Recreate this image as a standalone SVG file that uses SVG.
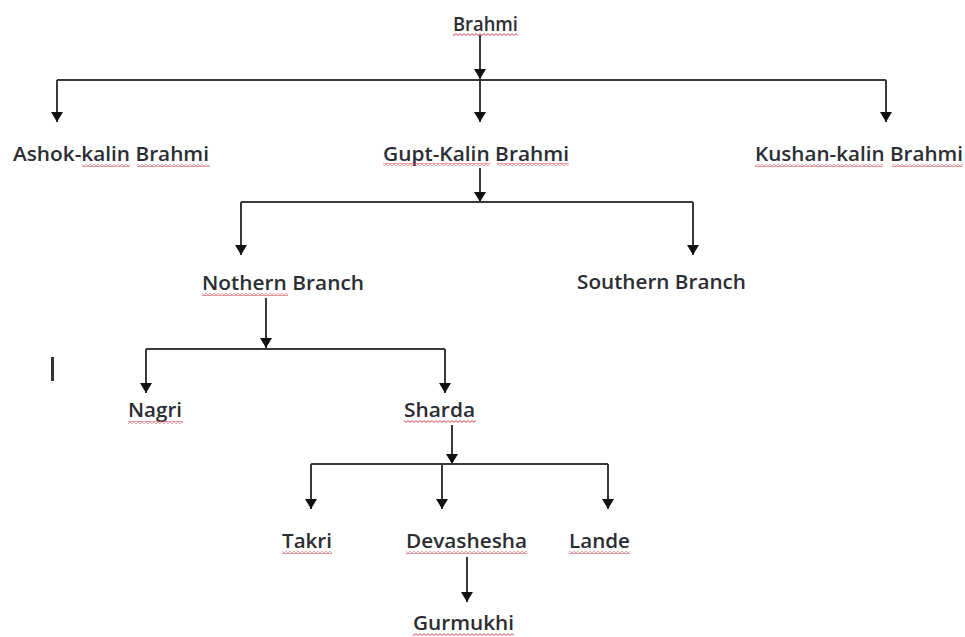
<svg xmlns="http://www.w3.org/2000/svg" width="965" height="637" viewBox="0 0 965 637">
<style>
  text { font-family: "Open Sans", "Noto Sans", "Liberation Sans", sans-serif; font-size: 19px; font-weight: 600; fill: #2b2d33; }
  .c path { fill: none; stroke: #3a3a3a; stroke-width: 2; }
  .sq { fill: url(#sq); }
</style>
<defs>
  <marker id="ah" markerUnits="userSpaceOnUse" markerWidth="12" markerHeight="12" refX="10" refY="6" orient="auto">
    <path d="M0,0 L10,6 L0,12 Z" fill="#111"/>
  </marker>
  <pattern id="sq" patternUnits="userSpaceOnUse" width="4" height="3">
    <path d="M0,0.6 L2,2.4 L4,0.6" fill="none" stroke="#e0404a" stroke-width="1"/>
  </pattern>
</defs>
<rect width="965" height="637" fill="#ffffff"/>
<g class="c" id="connectors">
  <path d="M480 35 V79" marker-end="url(#ah)"/>
  <path d="M57 80 H886"/>
  <path d="M57 80 V122" marker-end="url(#ah)"/>
  <path d="M480 80 V122" marker-end="url(#ah)"/>
  <path d="M886 80 V122" marker-end="url(#ah)"/>
  <path d="M480 168 V202" marker-end="url(#ah)"/>
  <path d="M241 202 H693"/>
  <path d="M241 202 V255" marker-end="url(#ah)"/>
  <path d="M693 202 V255" marker-end="url(#ah)"/>
  <path d="M266 298 V348" marker-end="url(#ah)"/>
  <path d="M146 349 H445"/>
  <path d="M146 349 V393" marker-end="url(#ah)"/>
  <path d="M445 349 V393" marker-end="url(#ah)"/>
  <path d="M452 425 V464" marker-end="url(#ah)"/>
  <path d="M311 464 H608"/>
  <path d="M311 464 V509" marker-end="url(#ah)"/>
  <path d="M442 464 V509" marker-end="url(#ah)"/>
  <path d="M608 464 V509" marker-end="url(#ah)"/>
  <path d="M467 557 V602" marker-end="url(#ah)"/>
</g>
<rect x="51" y="357" width="3" height="24" fill="#333"/>
<g id="brahmi"><text x="453" y="31" textLength="65" lengthAdjust="spacingAndGlyphs">Brahmi</text><rect class="sq" x="453" y="33" width="65" height="3"/></g>
<g id="ashok"><text x="13" y="161" textLength="196" lengthAdjust="spacingAndGlyphs">Ashok-kalin Brahmi</text><rect class="sq" x="82" y="164" width="48" height="3"/><rect class="sq" x="137" y="164" width="73" height="3"/></g>
<g id="gupt"><text x="383" y="161" textLength="186" lengthAdjust="spacingAndGlyphs">Gupt-Kalin Brahmi</text><rect class="sq" x="383" y="163" width="107" height="3"/><rect class="sq" x="497" y="163" width="72" height="3"/></g>
<g id="kushan"><text x="755" y="161" textLength="208" lengthAdjust="spacingAndGlyphs">Kushan-kalin Brahmi</text><rect class="sq" x="755" y="164" width="128" height="3"/><rect class="sq" x="892" y="164" width="71" height="3"/></g>
<g id="nothern"><text x="202" y="290" textLength="162" lengthAdjust="spacingAndGlyphs">Nothern Branch</text><rect class="sq" x="202" y="293" width="86" height="3"/></g>
<g id="southern"><text x="577" y="289" textLength="169" lengthAdjust="spacingAndGlyphs">Southern Branch</text></g>
<g id="nagri"><text x="128" y="417" textLength="54" lengthAdjust="spacingAndGlyphs">Nagri</text><rect class="sq" x="128" y="421" width="55" height="3"/></g>
<g id="sharda"><text x="404" y="417" textLength="71" lengthAdjust="spacingAndGlyphs">Sharda</text><rect class="sq" x="404" y="420" width="72" height="3"/></g>
<g id="takri"><text x="282" y="548" textLength="50" lengthAdjust="spacingAndGlyphs">Takri</text><rect class="sq" x="282" y="551" width="50" height="3"/></g>
<g id="devashesha"><text x="406" y="548" textLength="121" lengthAdjust="spacingAndGlyphs">Devashesha</text><rect class="sq" x="406" y="551" width="121" height="3"/></g>
<g id="lande"><text x="569" y="548" textLength="61" lengthAdjust="spacingAndGlyphs">Lande</text><rect class="sq" x="569" y="551" width="61" height="3"/></g>
<g id="gurmukhi"><text x="413" y="630" textLength="101" lengthAdjust="spacingAndGlyphs">Gurmukhi</text><rect class="sq" x="413" y="633" width="101" height="3"/></g>
</svg>
